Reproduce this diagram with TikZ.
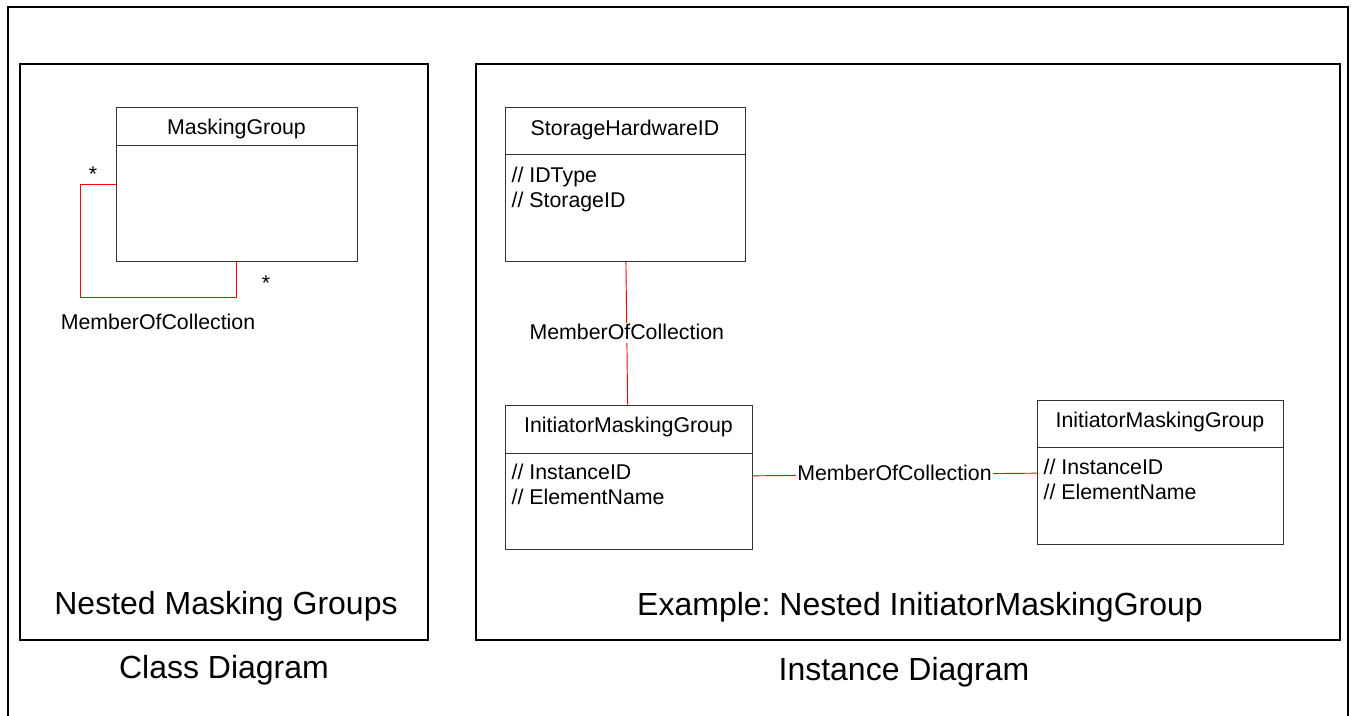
\documentclass[tikz,border=0pt]{standalone}
\usepackage{fontspec}
\setmainfont{Liberation Sans}
\frenchspacing
\usetikzlibrary{fit}

\tikzset{
  frame/.style={draw, line width=2pt, inner sep=0pt},
  classbox/.style={draw=black!80, line width=0.7pt, inner sep=0pt},
  assoc/.style={draw=red, line width=0.7pt},
  small/.style={font=\fontsize{16}{19}\selectfont, inner sep=1pt, text height=11.5pt, text depth=2pt},
  big/.style={font=\fontsize{24}{29}\selectfont, inner sep=1pt},
  attr/.style={small, anchor=west},
  assoclabel/.style={small, fill=white},
}

\begin{document}
\begin{tikzpicture}[x=0.75pt, y=-0.75pt]
  \useasboundingbox (0,0) rectangle (1353,715);

  % outer frame and the two panels
  \draw[frame] (8,716) -- (8,7) -- (1348,7) -- (1348,716);
  \node[frame, fit={(20,64) (428,640)}] (classpanel) {};
  \node[frame, fit={(476,64) (1340,640)}] (instpanel) {};

  % class diagram
  \node[classbox, fit={(116,107) (357,261)}] (mg) {};
  \draw[classbox] (116,145) -- (357,145);
  \node[small] (mgname) at (236.5,128) {MaskingGroup};

  \coordinate (loopa) at (80,184);
  \coordinate (loopb) at (80,297);
  \coordinate (loopc) at (236,297);
  \draw[assoc] (mg.west |- loopa) -- (loopa) -- (loopb) -- (loopc) -- (mg.south -| loopc);

  \node[small] (multa) at (93,175) {*};
  \node[small] (multb) at (266,284) {*};
  \node[small] (mglink) at (158,323) {MemberOfCollection};

  \node[big] (classtitle) at (226,606) {Nested Masking Groups};
  \node[big] (classcap) at (224,670) {Class Diagram};

  % instance diagram
  \node[classbox, fit={(505,107) (745,261)}] (sh) {};
  \draw[classbox] (505,154) -- (745,154);
  \node[small] (shname) at (625,129) {StorageHardwareID};
  \foreach \t [count=\i] in {IDType, StorageID}
    \node[attr] (sh-\i) at (510,151+25*\i) {// \t};

  \node[classbox, fit={(505,405) (752,549)}] (imga) {};
  \draw[classbox] (505,453) -- (752,453);
  \node[small] (imganame) at (628.5,426) {InitiatorMaskingGroup};
  \foreach \t [count=\i] in {InstanceID, ElementName}
    \node[attr] (imga-\i) at (510,448+25*\i) {// \t};

  \node[classbox, fit={(1037,400) (1283,544)}] (imgb) {};
  \draw[classbox] (1037,447) -- (1283,447);
  \node[small] (imgbname) at (1160,421) {InitiatorMaskingGroup};
  \foreach \t [count=\i] in {InstanceID, ElementName}
    \node[attr] (imgb-\i) at (1042,443+25*\i) {// \t};

  \draw[assoc] (sh) -- node[assoclabel] (shlink) {MemberOfCollection} (imga);
  \draw[assoc] (imga) -- node[assoclabel] (imglink) {MemberOfCollection} (imgb);

  \node[big] (insttitle) at (920,607) {Example: Nested InitiatorMaskingGroup};
  \node[big] (instcap) at (904,672) {Instance Diagram};
\end{tikzpicture}
\end{document}
